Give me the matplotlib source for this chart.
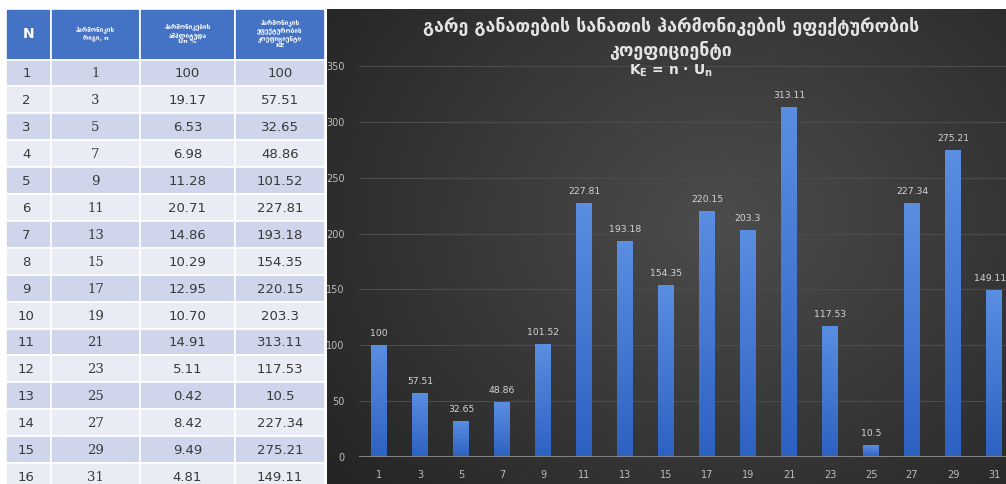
import numpy as np
import matplotlib.pyplot as plt
from matplotlib.patches import Rectangle
from matplotlib.colors import LinearSegmentedColormap

# harmonic data: order n, amplitude Un %, efficiency coefficient KE = n * Un
row_numbers = list(range(1, 17))
harmonic_order = [1, 3, 5, 7, 9, 11, 13, 15, 17, 19, 21, 23, 25, 27, 29, 31]
amplitude_text = ["100", "19.17", "6.53", "6.98", "11.28", "20.71", "14.86", "10.29",
                  "12.95", "10.70", "14.91", "5.11", "0.42", "8.42", "9.49", "4.81"]
ke_values = [100, 57.51, 32.65, 48.86, 101.52, 227.81, 193.18, 154.35,
             220.15, 203.3, 313.11, 117.53, 10.5, 227.34, 275.21, 149.11]

header_labels = ["N",
                 "ჰარმონიკის\nრიგი, n",
                 "ჰარმონიკების\nამპლიტუდა\nUn %",
                 "ჰარმონიკის\nეფექტურობის\nკოეფიციენტი\nKE"]
title_text = "გარე განათების სანათის ჰარმონიკების ეფექტურობის\nკოეფიციენტი"
formula_text = r"K$_\mathbf{E}$ = n · U$_\mathbf{n}$"

W, H = 1006, 484
fig = plt.figure(figsize=(W / 100, H / 100), dpi=100)


def px_axes(x0, y0, x1, y1):
    # axes from a pixel box measured from the top-left corner
    return fig.add_axes([x0 / W, 1 - y1 / H, (x1 - x0) / W, (y1 - y0) / H])


# ---- table on the left ----
tab = fig.add_axes([0, 0, 1, 1])
tab.set_xlim(0, W)
tab.set_ylim(H, 0)
tab.axis("off")

col_edges = [6, 51, 140, 235, 325]
top, head_h, row_h = 9, 50.5, 26.9

for c in range(4):
    x0, x1 = col_edges[c], col_edges[c + 1]
    tab.add_patch(Rectangle((x0, top), x1 - x0, head_h, facecolor="#4472c4",
                            edgecolor="white", lw=1.2))
    if c == 0:
        tab.text((x0 + x1) / 2, top + head_h / 2, header_labels[c], ha="center",
                 va="center", color="white", fontsize=10, fontweight="bold")
    else:
        tab.text((x0 + x1) / 2, top + head_h / 2, header_labels[c], ha="center",
                 va="center", color="white", fontsize=4.6, fontweight="bold",
                 linespacing=1.15)

for i in range(len(row_numbers)):
    y0 = top + head_h + i * row_h
    face = "#cfd5ea" if i % 2 == 0 else "#e9ebf5"
    cells = [str(row_numbers[i]), str(harmonic_order[i]), amplitude_text[i],
             f"{ke_values[i]:g}"]
    for c in range(4):
        x0, x1 = col_edges[c], col_edges[c + 1]
        tab.add_patch(Rectangle((x0, y0), x1 - x0, row_h, facecolor=face,
                                edgecolor="white", lw=1.2))
        fam = "DejaVu Serif" if c == 1 else "DejaVu Sans"
        tab.text((x0 + x1) / 2 + (-2 if c == 0 else 0), y0 + row_h / 2 + 1, cells[c],
                 ha="center", va="center", color="#3a3a3a", fontsize=9.5, family=fam)

# ---- dark chart panel ----
bg = px_axes(327, 9, W, H)
yy, xx = np.mgrid[0:1:240j, 0:1:340j]
r = np.hypot((xx - 0.58) / 0.8, (yy - 0.45) / 0.95)
shade = np.clip(1 - r, 0, 1)
bg_cmap = LinearSegmentedColormap.from_list("panel", ["#242424", "#4c4c4c"])
bg.imshow(shade, cmap=bg_cmap, aspect="auto", extent=(0, 1, 0, 1))
bg.axis("off")

ax = fig.add_axes([358.5 / W, 27 / H, 656 / W, 391 / H])
ax.patch.set_alpha(0)
x = np.arange(len(ke_values))
bars = ax.bar(x, ke_values, width=0.39, color="#4472c4", zorder=2)

bar_cmap = LinearSegmentedColormap.from_list("bar", ["#2e62c2", "#5a8ee2"])
grad = np.linspace(0, 1, 64).reshape(-1, 1)
for b in bars:
    bx, by = b.get_x(), b.get_y()
    im = ax.imshow(grad, cmap=bar_cmap, aspect="auto", origin="lower", zorder=2.5,
                   extent=(bx, bx + b.get_width(), by, by + b.get_height()))
    im.set_clip_path(b)

labels = ax.bar_label(bars, labels=[f"{v:g}" for v in ke_values], padding=5,
                      color="#d4d4d4", fontsize=6.7)
# last label sits at the right edge of the panel, nudge it inside
labels[-1].xyann = (-3, 5)

ax.set_xlim(-0.5, len(ke_values) - 0.5)
ax.set_ylim(0, 350)
ax.set_xticks(x)
ax.set_xticklabels([str(n) for n in harmonic_order])
ax.set_yticks(range(0, 351, 50))
ax.yaxis.grid(True, color="#4c4c4c", lw=0.8)
ax.set_axisbelow(True)
for s in ax.spines.values():
    s.set_visible(False)
ax.axhline(0, color="#858585", lw=1.4, zorder=3)
ax.tick_params(axis="both", length=0, colors="#bdbdbd", labelsize=7)
ax.tick_params(axis="y", pad=10)
ax.tick_params(axis="x", pad=9)

fig.text(671 / W, 1 - 38.5 / H, title_text, ha="center", va="center",
         color="#e4e4e4", fontsize=12.8, fontweight="bold", linespacing=1.3)
fig.text(671 / W, 1 - 71 / H, formula_text, ha="center", va="center",
         color="#e4e4e4", fontsize=10, fontweight="bold")

fig.savefig("out.png", dpi=100)
